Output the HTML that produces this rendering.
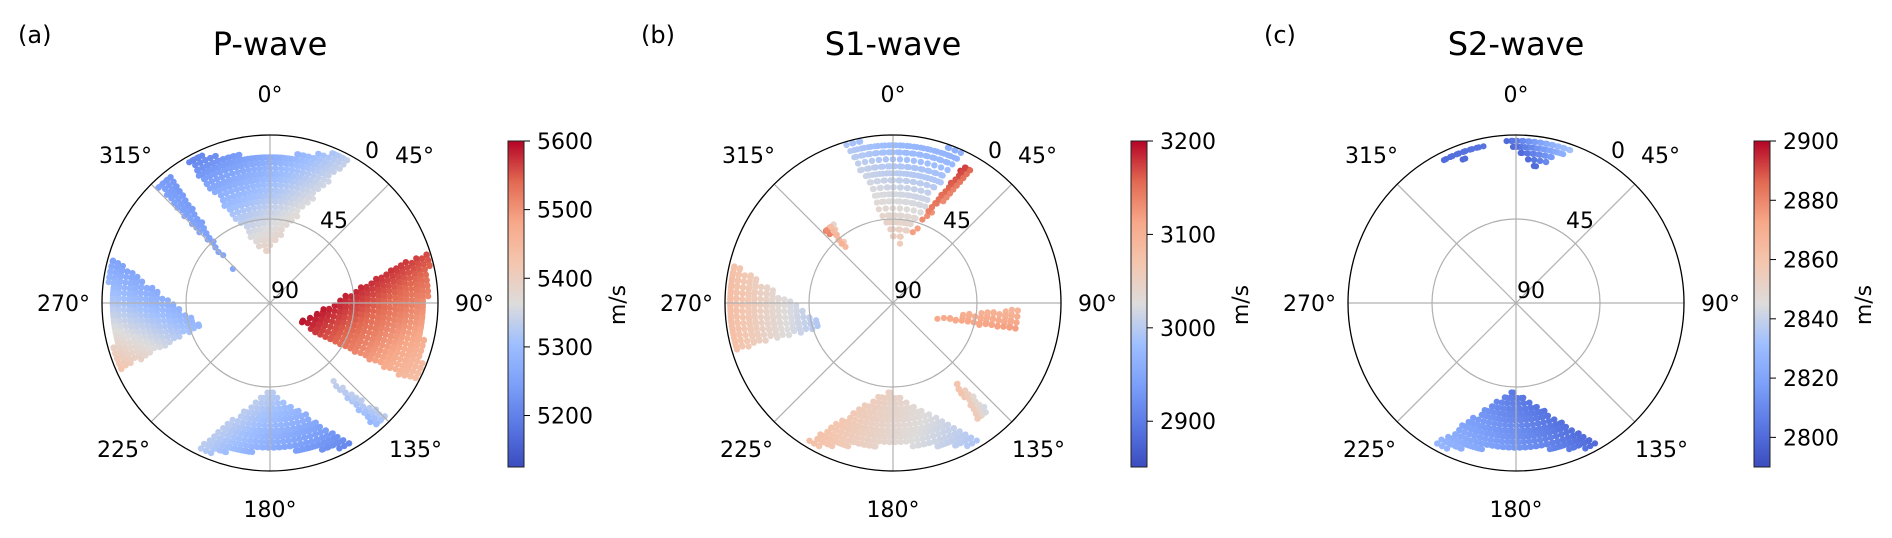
<!DOCTYPE html>
<html><head><meta charset="utf-8">
<style>
html,body{margin:0;padding:0;background:#fff;}
svg{display:block;font-family:"DejaVu Sans","Liberation Sans",sans-serif;}
</style></head>
<body>
<svg id="fig" width="1892" height="538" viewBox="0 0 1892 538" xmlns="http://www.w3.org/2000/svg">
<defs>
<linearGradient id="cw" x1="0" y1="1" x2="0" y2="0">
<stop offset="0" stop-color="#3b4cc0"/><stop offset="0.125" stop-color="#5977e3"/>
<stop offset="0.25" stop-color="#7b9ff9"/><stop offset="0.375" stop-color="#9ebeff"/>
<stop offset="0.5" stop-color="#dddcdc"/><stop offset="0.625" stop-color="#f4c6af"/>
<stop offset="0.75" stop-color="#f7a889"/><stop offset="0.875" stop-color="#e26952"/>
<stop offset="1" stop-color="#b40426"/>
</linearGradient>
</defs>
</svg>
<script>
// ---- panel definitions ----
const panelNames = ["p-wave","s1-wave","s2-wave"];
const panelTitles = ["P-wave","S1-wave","S2-wave"];
const panelLetters = ["(a)","(b)","(c)"];
const panelCenterX = [270, 893, 1516];
const cbarMin = [5125, 2851, 2790];
const cbarMax = [5600, 3200, 2900];
const cbarTicksA = [5200, 5300, 5400, 5500, 5600];
const cbarTicksB = [2900, 3000, 3100, 3200];
const cbarTicksC = [2800, 2820, 2840, 2860, 2880, 2900];
const angleTicks = [0, 45, 90, 135, 180, 225, 270, 315];
const radialTicks = [0, 45, 90];

// clusters: apex azimuth/incidence, outer azimuth span and incidence, velocities (apex, left-outer, right-outer), spacing
const aApexAz  = [-5, -47, 253, 122, 142, 180];
const aApexInc = [62, 63, 50, 70, 39, 42];
const aAzFrom  = [-30, -44, 246, 72, 134, 150];
const aAzTo    = [28, -38, 286, 118, 140, 207];
const aOutInc  = [0, 0, 0, 0, 0, 0];
const aVApex   = [5390, 5260, 5290, 5590, 5340, 5330];
const aVLeft   = [5200, 5250, 5430, 5560, 5330, 5200];
const aVRight  = [5330, 5230, 5250, 5430, 5280, 5330];
const aStep    = [5.5, 5.5, 5.5, 5.5, 5.5, 5.5];

const bApexAz  = [5, 12, -40, 252, 112, 142, 183];
const bApexInc = [58, 56, 56, 51, 68, 40, 42];
const bAzFrom  = [-16, 27, -43, 254, 92, 138, 148];
const bAzTo    = [24, 31, -37, 284, 102, 144, 212];
const bOutInc  = [0, 6, 36, 0, 20, 11, 0];
const bVApex   = [3060, 3110, 3080, 2990, 3110, 3080, 3050];
const bVLeft   = [2990, 3190, 3150, 3080, 3090, 3000, 2990];
const bVRight  = [2960, 3150, 3040, 3080, 3120, 3060, 3080];
const bStep    = [7, 5, 5, 6, 6, 5, 5.5];

const cApexAz  = [8, -20, 182];
const cApexInc = [16, 8, 42];
const cAzFrom  = [-5, -34, 150];
const cAzTo    = [22, -5, 210];
const cOutInc  = [0, 0, 0];
const cVApex   = [2800, 2800, 2805];
const cVLeft   = [2800, 2800, 2800];
const cVRight  = [2840, 2805, 2830];
const cStep    = [6, 7, 5.5];

const CY = 303, R = 168, NS = "http://www.w3.org/2000/svg";
const svg = document.getElementById('fig');

function el(tag, attrs, parent, text) {
  const e = document.createElementNS(NS, tag);
  for (const k in attrs) e.setAttribute(k, attrs[k]);
  if (text !== undefined) e.textContent = text;
  (parent || svg).appendChild(e);
  return e;
}
const stops = [[0,[59,76,192]],[0.125,[89,119,227]],[0.25,[123,159,249]],[0.375,[158,190,255]],[0.5,[221,220,220]],[0.625,[244,198,175]],[0.75,[247,168,137]],[0.875,[226,105,82]],[1,[180,4,38]]];
function cmap(t) {
  t = Math.max(0, Math.min(1, t));
  for (let i = 1; i < stops.length; i++) {
    if (t <= stops[i][0]) {
      const a = stops[i-1], b = stops[i], f = (t - a[0]) / (b[0] - a[0]);
      const c = a[1].map((v, k) => Math.round(v + (b[1][k] - v) * f));
      return `rgb(${c[0]},${c[1]},${c[2]})`;
    }
  }
  return 'rgb(180,4,38)';
}
function radOf(inc) { return (90 - inc) / 90 * R; }
function xy(cx, az, inc) { const r = radOf(inc), a = az * Math.PI / 180; return [cx + r * Math.sin(a), CY - r * Math.cos(a)]; }

function drawClusters(p, g, apexAz, apexInc, azFrom, azTo, outInc, vA, vL, vR, step) {
  const cx = panelCenterX[p];
  for (let k = 0; k < apexAz.length; k++) {
    const P = xy(cx, apexAz[k], apexInc[k]);
    const L = xy(cx, azFrom[k], outInc[k]);
    const Rr = xy(cx, azTo[k], outInc[k]);
    const den = (L[1] - Rr[1]) * (P[0] - Rr[0]) + (Rr[0] - L[0]) * (P[1] - Rr[1]);
    const r0 = radOf(apexInc[k]), r1 = radOf(outInc[k]);
    const s = step[k];
    for (let r = Math.min(r0, r1); r <= Math.min(R - 2.5, Math.max(r0, r1)) + 0.1; r += s) {
      const da = s / Math.max(r, 1) * 180 / Math.PI;
      for (let az = -360; az < 360; az += da) {
        const a = az * Math.PI / 180;
        const x = cx + r * Math.sin(a), y = CY - r * Math.cos(a);
        const w1 = ((L[1] - Rr[1]) * (x - Rr[0]) + (Rr[0] - L[0]) * (y - Rr[1])) / den;
        const w2 = ((Rr[1] - P[1]) * (x - Rr[0]) + (P[0] - Rr[0]) * (y - Rr[1])) / den;
        const w3 = 1 - w1 - w2;
        if (w1 < -0.02 || w2 < -0.02 || w3 < -0.02) continue;
        const v = w1 * vA[k] + w2 * vL[k] + w3 * vR[k];
        const c = el('circle', {cx: x.toFixed(1), cy: y.toFixed(1), r: 3.1, fill: cmap((v - cbarMin[p]) / (cbarMax[p] - cbarMin[p]))}, g);
        
        
      }
    }
  }
}

function drawPanel(p, ticks, clusterArgs) {
  const cx = panelCenterX[p];
  const g = el('g', {});
  
  
  const lt = el('text', {x: cx - 252, y: 43, 'font-size': 24, fill: '#000'}, g, panelLetters[p]);
  
  
  const tt = el('text', {x: cx, y: 55, 'font-size': 32, 'text-anchor': 'middle', fill: '#000'}, g, panelTitles[p]);
  
  
  const pts = el('g', {}, g);
  
  
  drawClusters(p, pts, ...clusterArgs);
  const gr = el('g', {stroke: '#b0b0b0', 'stroke-width': 1.2, fill: 'none'}, g);
  
  
  angleTicks.forEach(a => {
    const e = xy(cx, a, 0);
    el('line', {x1: cx, y1: CY, x2: e[0].toFixed(1), y2: e[1].toFixed(1)}, gr);
  });
  el('circle', {cx: cx, cy: CY, r: radOf(45)}, gr);
  const oc = el('circle', {cx: cx, cy: CY, r: R, stroke: '#000', 'stroke-width': 1.3, fill: 'none'}, g);
  
  
  const aPos = [[0,-201,'middle'],[125,-140,'start'],[185,8,'start'],[119,154,'start'],[0,214,'middle'],[-120,154,'end'],[-180,8,'end'],[-118,-140,'end']];
  angleTicks.forEach((a, i) => {
    const t = el('text', {x: cx + aPos[i][0], y: CY + aPos[i][1], 'font-size': 22, 'text-anchor': aPos[i][2]}, g, a + '°');
    
    
  });
  const rPos = [[95,-145],[50,-75],[1,-5]];
  radialTicks.forEach((v, i) => {
    const t = el('text', {x: cx + rPos[i][0], y: CY + rPos[i][1], 'font-size': 22}, g, String(v));
    
    
  });
  const bx = cx + 238, top = 141, bot = 467;
  const cb = el('rect', {x: bx, y: top, width: 16, height: bot - top, fill: 'url(#cw)', stroke: '#222', 'stroke-width': 1}, g);
  
  
  ticks.forEach(v => {
    const y = bot - (v - cbarMin[p]) / (cbarMax[p] - cbarMin[p]) * (bot - top);
    el('line', {x1: bx + 16, y1: y, x2: bx + 22, y2: y, stroke: '#000', 'stroke-width': 1}, g);
    const t = el('text', {x: bx + 29, y: y + 8, 'font-size': 22}, g, String(v));
    
    
  });
  const ux = bx + 117;
  const u = el('text', {x: ux, y: 305, 'font-size': 22, 'text-anchor': 'middle', transform: `rotate(-90 ${ux} 305)`}, g, 'm/s');
  
  
}

drawPanel(0, cbarTicksA, [aApexAz, aApexInc, aAzFrom, aAzTo, aOutInc, aVApex, aVLeft, aVRight, aStep]);
drawPanel(1, cbarTicksB, [bApexAz, bApexInc, bAzFrom, bAzTo, bOutInc, bVApex, bVLeft, bVRight, bStep]);
drawPanel(2, cbarTicksC, [cApexAz, cApexInc, cAzFrom, cAzTo, cOutInc, cVApex, cVLeft, cVRight, cStep]);
</script>
</body></html>
